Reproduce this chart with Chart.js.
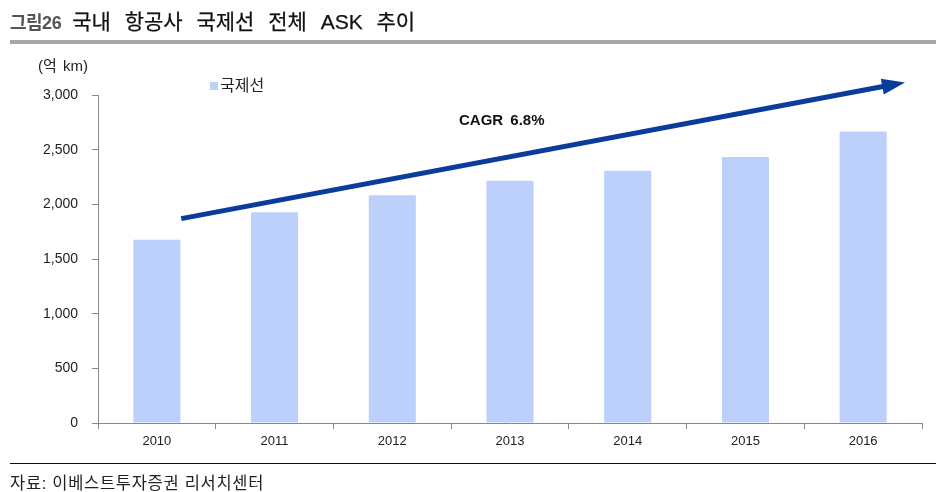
<!DOCTYPE html>
<html>
<head>
<meta charset="utf-8">
<script src="https://cdn.jsdelivr.net/npm/chart.js@4/dist/chart.umd.min.js"></script>
<style>
    body { margin: 0; width: 936px; height: 492px; background: #fff; overflow: hidden;
           font-family: "Liberation Sans", "Noto Sans CJK KR", sans-serif; }
    #wrap { position: relative; width: 936px; height: 492px; }
    #chart { position: absolute; left: 0; top: 0; }
    .title { position: absolute; left: 10px; top: 5px; white-space: nowrap; }
    .title .fig { font-size: 18px; font-weight: bold; color: #555; letter-spacing: -0.5px; }
    .title .main { font-size: 21px; color: #111; margin-left: 11px; word-spacing: 8px;
                   -webkit-text-stroke: 0.25px #111; }
    .rule { position: absolute; left: 10px; right: 0; top: 40px; height: 4px; background: #a6a6a6; }
    .unit { position: absolute; left: 38px; top: 54px; font-size: 15px; color: #222; word-spacing: 2px; }
    .legend { position: absolute; left: 210px; top: 72px; font-size: 16px; color: #222; }
    .legend i { display: inline-block; width: 8px; height: 8px; background: #bcd0fb; margin-right: 2px; vertical-align: 1px; }
    .cagr { position: absolute; left: 459px; top: 111px; font-size: 15px; font-weight: bold; color: #111; word-spacing: 3px; }
    .foot-rule { position: absolute; left: 10px; right: 0; top: 463px; height: 1px; background: #111; }
    .foot { position: absolute; left: 10px; top: 470px; font-size: 16.5px; color: #222; letter-spacing: 0.7px; }
</style>
</head>
<body>
<div id="wrap">
    <canvas id="chart" width="936" height="492"></canvas>
    <div class="title"><span class="fig">그림26</span><span class="main">국내 항공사 국제선 전체 ASK 추이</span></div>
    <div class="rule"></div>
    <div class="unit">(억 km)</div>
    <div class="legend"><i></i>국제선</div>
    <div class="cagr">CAGR 6.8%</div>
    <div class="foot-rule"></div>
    <div class="foot">자료: 이베스트투자증권 리서치센터</div>
</div>
<script>
// 데이터
const years = ['2010', '2011', '2012', '2013', '2014', '2015', '2016'];
const askIntl = [1676, 1927, 2082, 2215, 2307, 2434, 2667];
const yTicks = [0, 500, 1000, 1500, 2000, 2500, 3000];
// CAGR 화살표 (카테고리 인덱스, 값)
const arrowStart = [0.207, 1869];
const arrowEnd = [6.355, 3115];

const arrowPlugin = {
    id: 'cagrArrow',
    afterDatasetsDraw(chart) {
        const { ctx, scales } = chart;
        const x1 = scales.x.getPixelForValue(arrowStart[0]);
        const y1 = scales.y.getPixelForValue(arrowStart[1]);
        const x2 = scales.x.getPixelForValue(arrowEnd[0]);
        const y2 = scales.y.getPixelForValue(arrowEnd[1]);
        const ang = Math.atan2(y2 - y1, x2 - x1);
        const headLen = 23, headHalf = 8;
        const bx = x2 - headLen * Math.cos(ang);
        const by = y2 - headLen * Math.sin(ang);
        ctx.save();
        ctx.strokeStyle = '#0a3c9c';
        ctx.fillStyle = '#0a3c9c';
        ctx.lineWidth = 5;
        ctx.beginPath();
        ctx.moveTo(x1, y1);
        ctx.lineTo(bx + 2 * Math.cos(ang), by + 2 * Math.sin(ang));
        ctx.stroke();
        ctx.beginPath();
        ctx.moveTo(x2, y2);
        ctx.lineTo(bx + headHalf * Math.sin(ang), by - headHalf * Math.cos(ang));
        ctx.lineTo(bx - headHalf * Math.sin(ang), by + headHalf * Math.cos(ang));
        ctx.closePath();
        ctx.fill();
        ctx.restore();
    }
};

new Chart(document.getElementById('chart'), {
    type: 'bar',
    data: {
        labels: years,
        datasets: [{
            label: '국제선',
            data: askIntl,
            backgroundColor: '#bcd0fb',
            barPercentage: 0.4,
            categoryPercentage: 1.0
        }]
    },
    options: {
        responsive: false,
        animation: false,
        layout: { padding: { top: 95, right: 14, bottom: 0, left: 0 } },
        plugins: {
            legend: { display: false },
            tooltip: { enabled: false }
        },
        scales: {
            x: {
                grid: { drawOnChartArea: false, tickLength: 6, color: '#888' },
                border: { color: '#888', width: 1 },
                ticks: { color: '#222', padding: 5, font: { family: 'Liberation Sans', size: 13 } },
                afterFit(scale) { scale.height = 69; }
            },
            y: {
                min: 0,
                max: 3000,
                afterBuildTicks(scale) { scale.ticks = yTicks.map(v => ({ value: v })); },
                grid: { drawOnChartArea: false, tickLength: 6, color: '#888' },
                border: { color: '#888', width: 1 },
                ticks: {
                    color: '#222',
                    padding: 14,
                    font: { family: 'Liberation Sans', size: 14 },
                    callback: v => v.toLocaleString('en-US')
                },
                afterFit(scale) { scale.width = 98; }
            }
        }
    },
    plugins: [arrowPlugin]
});
</script>
</body>
</html>
